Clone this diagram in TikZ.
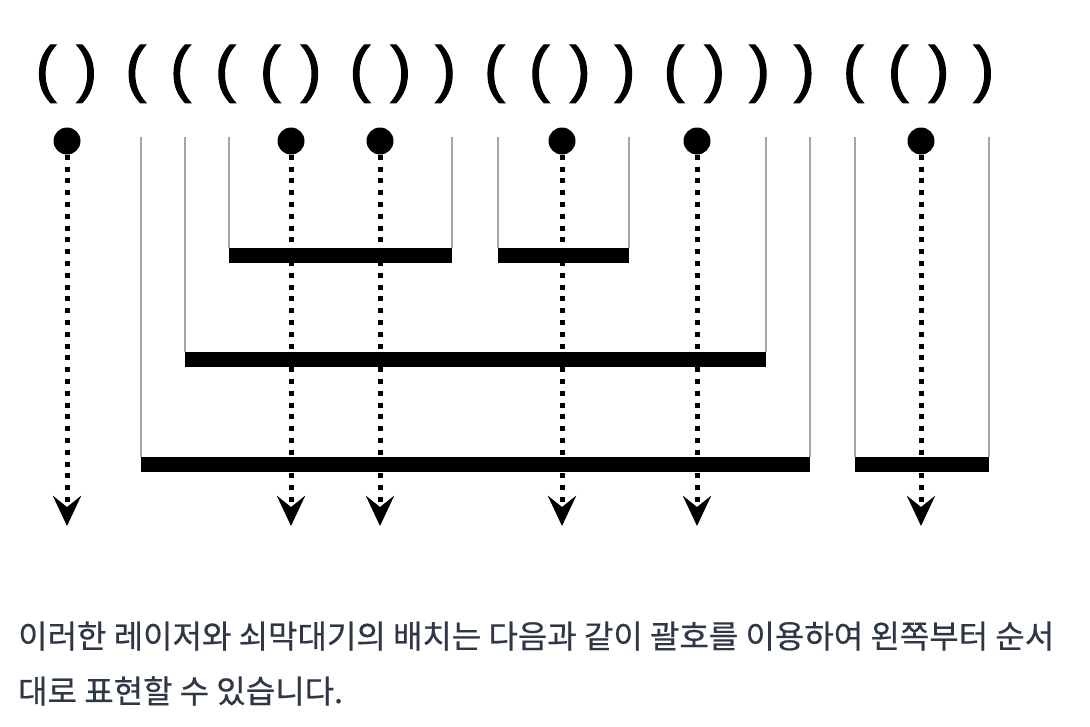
\documentclass[tikz,border=0pt]{standalone}
\usepackage{fontspec}
\newfontfamily\krfont[FakeBold=0.5]{Noto Sans CJK KR}
\newfontfamily\parfont[FakeBold=2]{Liberation Sans}
\usetikzlibrary{arrows.meta}
\definecolor{txtcol}{HTML}{2E3745}
\begin{document}
\begin{tikzpicture}[x=1pt,y=-1pt,
  barstyle/.style={fill=black},
  stickline/.style={draw=black!35, line width=1.6pt},
  laser/.style={line width=5pt, dash pattern=on 5pt off 6.8pt,
    -{Stealth[length=30pt,width=28pt,inset=11pt]}},
  dotnode/.style={circle, fill=black, minimum size=27pt, inner sep=0pt},
  parnode/.style={font=\parfont\fontsize{62}{62}\selectfont, inner sep=0pt, anchor=base},
  txtnode/.style={font=\krfont\fontsize{32}{32}\selectfont, text=txtcol, inner sep=0pt, anchor=base west}]
\useasboundingbox (0,0) rectangle (1090,726);
\fill[white] (0,0) rectangle (1090,726);
% parentheses
\foreach \i/\c/\o in {1/(/0,2/)/1,3/(/0,4/(/0,5/(/0,6/(/0,7/)/1,8/(/0,9/)/1,10/)/1,11/(/0,12/(/0,13/)/1,14/)/1,15/(/0,16/)/1,17/)/1,18/)/1,19/(/0,20/(/0,21/)/1,22/)/1}{
  \pgfmathsetmacro{\px}{46+44.85*(\i-1)-4*\o}
  \node[parnode] (p\i) at (\px,89.8) {\c};
}
% vertical lines of sticks
\draw[stickline] (141,137) -- (141,457) (810,137) -- (810,457);
\draw[stickline] (185,137) -- (185,352) (766,137) -- (766,352);
\draw[stickline] (229,137) -- (229,248) (452,137) -- (452,248);
\draw[stickline] (498,137) -- (498,248) (629,137) -- (629,248);
\draw[stickline] (855,137) -- (855,457) (989,137) -- (989,457);
% lasers
\foreach \n/\x in {1/67,2/291,3/380,4/562,5/697,6/921}{
  \node[dotnode] (d\n) at (\x,141) {};
  \coordinate (e\n) at (\x,526);
  \draw[laser] (d\n.south) -- (e\n);
}
% bars
\fill[barstyle] (229,248) rectangle (452,263);
\fill[barstyle] (498,248) rectangle (629,263);
\fill[barstyle] (185,352) rectangle (766,367);
\fill[barstyle] (141,457) rectangle (810,472);
\fill[barstyle] (855,457) rectangle (989,472);
% text
\node[txtnode] (t1) at (18,648) {이러한 레이저와 쇠막대기의 배치는 다음과 같이 괄호를 이용하여 왼쪽부터 순서};
\node[txtnode] (t2) at (18,703) {대로 표현할 수 있습니다.};
\end{tikzpicture}
\end{document}
